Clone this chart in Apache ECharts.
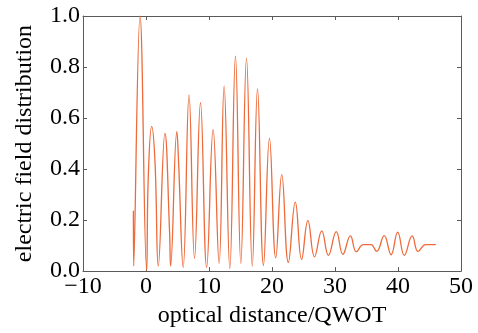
<!DOCTYPE html>
<html>
<head>
<meta charset="utf-8">
<script src="https://cdn.jsdelivr.net/npm/echarts@6/dist/echarts.min.js"></script>
<style>
  html, body { margin: 0; padding: 0; background: #fff; }
  #chart { width: 478px; height: 333px; }
</style>
</head>
<body>
<div id="chart"></div>
<script>
const xs = [
  -2.0, -1.95, -0.95, 0.1, 0.35, 0.9, 1.43, 1.95, 3.0, 3.75, 3.9, 4.9, 5.15, 5.9,
  6.83, 7.7, 8.65, 9.63, 10.65, 11.6, 12.4, 13.3, 14.2, 15.05, 15.95, 16.87,
  17.7, 18.65, 19.6, 20.6, 21.55, 22.6, 23.7, 24.7, 25.7, 26.75, 27.9, 28.95,
  30.2, 31.25, 32.45, 33.4, 34.5, 35.7, 36.6, 37.8, 38.9, 39.95, 41.0, 42.25,
  43.2, 44.4, 46.0
];
const ys = [
  0.237, 0.02, 1.0, 0.003, 0.36, 0.567, 0.427, 0.02, 0.54, 0.15, 0.02, 0.547, 0.44, 0.015,
  0.69, 0.05, 0.66, 0.015, 0.554, 0.03, 0.725, 0.01, 0.843, 0.03, 0.835, 0.02,
  0.714, 0.022, 0.52, 0.052, 0.378, 0.034, 0.27, 0.046, 0.198, 0.056, 0.158, 0.062,
  0.155, 0.066, 0.138, 0.076, 0.104, 0.104, 0.077, 0.139, 0.064, 0.153, 0.062, 0.138,
  0.077, 0.104, 0.104
];

const xMin = -10, xMax = 50, xStep = 10;
const yMin = 0, yMax = 1, yStep = 0.2;

const FONT = 'Liberation Serif';
const AXIS_GRAY = '#5a5a5a';
const LINE_COLOR = '#ED6A3A';

const chart = echarts.init(document.getElementById('chart'));

const lineStyle = { color: AXIS_GRAY, width: 1 };
const axisLine = { show: true, onZero: false, lineStyle: lineStyle };
const tickStyle = { inside: true, length: 4, lineStyle: lineStyle };

chart.setOption({
  animation: false,
  grid: { left: 83, right: 17, top: 16, bottom: 54 },
  xAxis: [
    {
      type: 'value',
      min: xMin, max: xMax, interval: xStep,
      position: 'bottom',
      axisLine: axisLine,
      axisTick: tickStyle,
      splitLine: { show: false },
      axisLabel: {
        color: '#000', fontFamily: FONT, fontSize: 24, margin: 4,
        formatter: v => (v < 0 ? '\u2212' + Math.abs(v) : String(v))
      },
      name: 'optical distance/QWOT',
      nameLocation: 'middle',
      nameGap: 28,
      nameTextStyle: { color: '#000', fontFamily: FONT, fontSize: 24 }
    },
    {
      type: 'value',
      min: xMin, max: xMax, interval: xStep,
      position: 'top',
      axisLine: axisLine,
      axisTick: tickStyle,
      splitLine: { show: false },
      axisLabel: { show: false }
    }
  ],
  yAxis: [
    {
      type: 'value',
      min: yMin, max: yMax, interval: yStep,
      position: 'left',
      axisLine: axisLine,
      axisTick: tickStyle,
      splitLine: { show: false },
      axisLabel: {
        color: '#000', fontFamily: FONT, fontSize: 24, margin: 3,
        formatter: v => v.toFixed(1)
      },
      name: 'electric field distribution',
      nameLocation: 'middle',
      nameRotate: 90,
      nameGap: 46,
      nameTextStyle: { color: '#000', fontFamily: FONT, fontSize: 24 }
    },
    {
      type: 'value',
      min: yMin, max: yMax, interval: yStep,
      position: 'right',
      axisLine: axisLine,
      axisTick: tickStyle,
      splitLine: { show: false },
      axisLabel: { show: false }
    }
  ],
  series: [
    {
      type: 'line',
      data: xs.map((x, i) => [x, ys[i]]),
      showSymbol: false,
      smooth: 0.45,
      lineStyle: { color: LINE_COLOR, width: 1.3 }
    }
  ]
});
</script>
</body>
</html>
